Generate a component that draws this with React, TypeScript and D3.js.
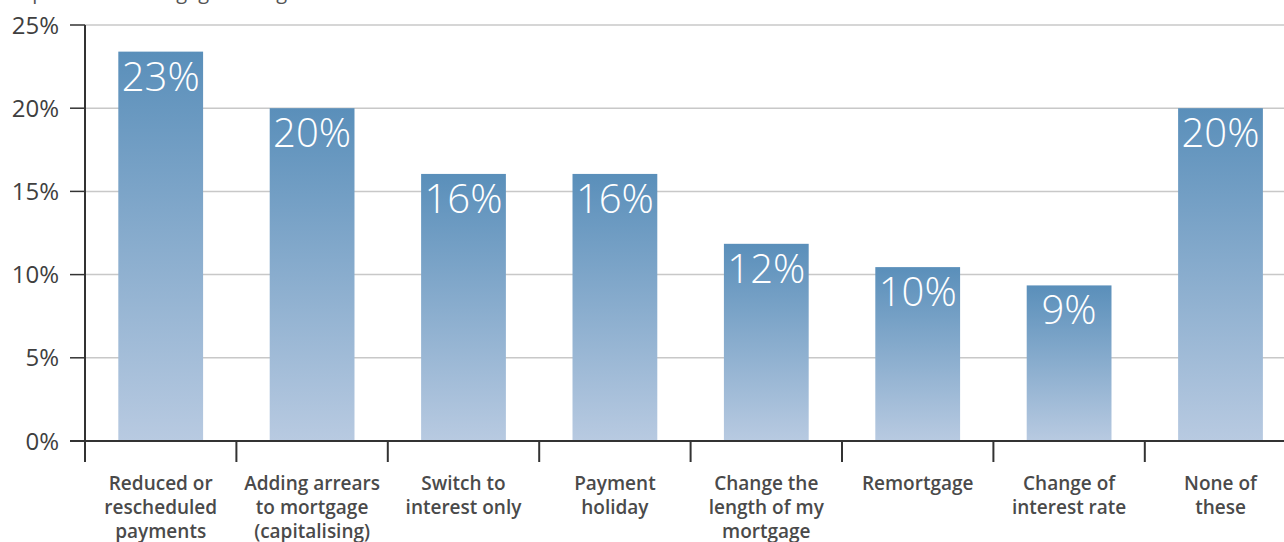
import React from "react";
import * as d3 from "d3";

const categories: string[][] = [
  ["Reduced or", "rescheduled", "payments"],
  ["Adding arrears", "to mortgage", "(capitalising)"],
  ["Switch to", "interest only"],
  ["Payment", "holiday"],
  ["Change the", "length of my", "mortgage"],
  ["Remortgage"],
  ["Change of", "interest rate"],
  ["None of", "these"],
];
const values: number[] = [23.4, 20.0, 16.05, 16.05, 11.85, 10.45, 9.35, 20.0];
const valueLabels: string[] = ["23%", "20%", "16%", "16%", "12%", "10%", "9%", "20%"];
const yTicks: number[] = [0, 5, 10, 15, 20, 25];

const W = 1284;
const H = 542;

export default function App() {
  const left = 85;
  const x = d3
    .scaleBand<number>()
    .domain(values.map((_, i) => i))
    .range([left, left + 8 * 151.4])
    .paddingInner(0.44)
    .paddingOuter(0.22);
  const y = d3.scaleLinear().domain([0, 25]).range([441, 25]);
  const step = x.step();
  const font = "'Open Sans', 'Noto Sans', sans-serif";

  return (
    <svg width={W} height={H} style={{ position: "absolute", left: 0, top: 0 }}>
      <defs>
        <linearGradient id="barGrad" x1="0" y1="0" x2="0" y2="1">
          <stop offset="0%" stopColor="#5a8fba" />
          <stop offset="100%" stopColor="#b8cae1" />
        </linearGradient>
      </defs>
      <rect width={W} height={H} fill="#ffffff" />
      <text x={0} y={-1} fontFamily={font} fontSize={20} fill="#555">
        Proportion of mortgage arrangements
      </text>
      {yTicks.map((t) => (
        <g key={t}>
          {t > 0 && (
            <line x1={left} x2={W} y1={y(t)} y2={y(t)} stroke="#c8c8c8" strokeWidth={1.5} />
          )}
          <line x1={70} x2={left} y1={y(t)} y2={y(t)} stroke="#333" strokeWidth={1.5} />
          <text
            x={59}
            y={y(t)}
            dy="0.36em"
            textAnchor="end"
            fontFamily={font}
            fontSize={24}
            fill="#3f3f3f"
          >
            {t}%
          </text>
        </g>
      ))}
      {values.map((v, i) => (
        <g key={i}>
          <rect
            x={x(i)}
            y={y(v)}
            width={x.bandwidth()}
            height={y(0) - y(v)}
            fill="url(#barGrad)"
          />
          <text
            x={(x(i) as number) + x.bandwidth() / 2}
            y={y(v) + 39}
            textAnchor="middle"
            fontFamily={font}
            fontWeight={300}
            fontSize={40}
            fill="#ffffff"
          >
            {valueLabels[i]}
          </text>
        </g>
      ))}
      <line x1={70} x2={W} y1={y(0)} y2={y(0)} stroke="#333" strokeWidth={2} />
      <line x1={left} x2={left} y1={y(25)} y2={462} stroke="#333" strokeWidth={2} />
      {d3.range(1, 8).map((k) => (
        <line
          key={k}
          x1={left + k * step}
          x2={left + k * step}
          y1={y(0)}
          y2={462}
          stroke="#333"
          strokeWidth={2}
        />
      ))}
      {categories.map((lines, i) => (
        <text
          key={i}
          x={(x(i) as number) + x.bandwidth() / 2}
          y={490}
          textAnchor="middle"
          fontFamily={font}
          fontWeight={600}
          fontSize={19}
          fill="#4a4a4a"
        >
          {lines.map((l, j) => (
            <tspan key={j} x={(x(i) as number) + x.bandwidth() / 2} dy={j === 0 ? 0 : 24}>
              {l}
            </tspan>
          ))}
        </text>
      ))}
    </svg>
  );
}
